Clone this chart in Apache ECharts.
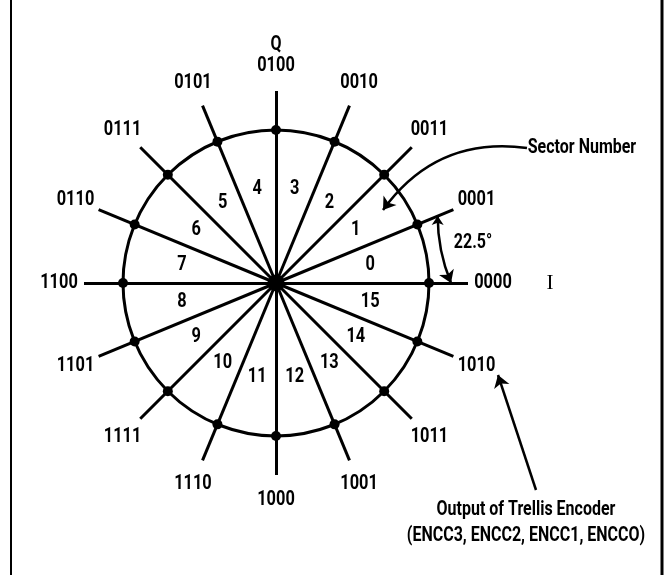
<!DOCTYPE html>
<html>
<head>
<meta charset="utf-8">
<script src="https://cdn.jsdelivr.net/npm/echarts@6/dist/echarts.min.js"></script>
<style>
  html, body { margin: 0; padding: 0; background: #fff; }
  #chart { width: 664px; height: 575px; }
</style>
</head>
<body>
<div id="chart"></div>
<script>
// constellation codes, one per phase point, starting at I axis going counter clockwise
const codes = ["0000", "0001", "0011", "0010", "0100", "0101", "0111", "0110",
               "1100", "1101", "1111", "1110", "1000", "1001", "1011", "1010"];
// sector numbers between neighbouring points
const sectors = ["0", "1", "2", "3", "4", "5", "6", "7",
                 "8", "9", "10", "11", "12", "13", "14", "15"];
const stepDeg = 22.5;

// radii in chart units
const circleR = 153;
const spokeR = 192;
const codeR = 217;
const sectorR = 96;
const arcR = 175;

// annotation texts and their anchors
const notes = [
  { text: "Q", at: [0, 238] },
  { text: "22.5°", at: [197, 40] },
  { text: "Sector Number", at: [306, 135] },
  { text: "Output of Trellis Encoder", at: [250, -227] },
  { text: "(ENCC3, ENCC2, ENCC1, ENCCO)", at: [250, -253] }
];
const axisNotes = [{ text: "I", at: [274, 0] }];
// arrows: sector number pointer, encoder output pointer
const sectorArrow = [[251, 135], [107, 73]];
const outputArrow = [[260, -207], [222, -92]];

const FONT = "Roboto, 'Liberation Sans', sans-serif";

function polar(r, deg) {
  const a = deg * Math.PI / 180;
  return [r * Math.cos(a), r * Math.sin(a)];
}

let spokes = codes.map((c, i) => ({ coords: [[0, 0], polar(spokeR, i * stepDeg)] }));
let dots = codes.map((c, i) => polar(circleR, i * stepDeg));
let codeItems = codes.map((c, i) => ({ at: polar(codeR, i * stepDeg), text: c }));
let sectorItems = sectors.map((s, i) => ({ at: polar(sectorR, (i + 0.5) * stepDeg), text: s }));

/* text layer drawn as custom series so the letters can be squeezed */
function textSeries(items, font, squeeze) {
  return {
    type: "custom",
    silent: true,
    data: items.map(it => it.at),
    renderItem: function(params, api) {
      let p = api.coord([api.value(0), api.value(1)]);
      return {
        type: "text",
        x: p[0],
        y: p[1],
        scaleX: squeeze,
        style: {
          text: items[params.dataIndex].text,
          font: font,
          fill: "#000",
          align: "center",
          verticalAlign: "middle"
        }
      };
    }
  };
}

let option = {
  animation: false,
  backgroundColor: "#fff",
  grid: { left: 0, right: 0, top: 0, bottom: 0 },
  xAxis: { type: "value", min: -276, max: 388, show: false },
  yAxis: { type: "value", min: -292, max: 283, show: false },
  graphic: [
    { type: "line", shape: { x1: 11, y1: 0, x2: 11, y2: 575 }, style: { stroke: "#000", lineWidth: 2 } },
    { type: "line", shape: { x1: 662, y1: 0, x2: 662, y2: 575 }, style: { stroke: "#000", lineWidth: 3 } }
  ],
  series: [
    {
      // outer circle
      type: "custom",
      data: [[0, 0]],
      silent: true,
      renderItem: function(params, api) {
        let c = api.coord([0, 0]);
        let r = api.size([circleR, 0])[0];
        return {
          type: "circle",
          shape: { cx: c[0], cy: c[1], r: r },
          style: { fill: "none", stroke: "#000", lineWidth: 3 }
        };
      }
    },
    {
      type: "lines",
      coordinateSystem: "cartesian2d",
      data: spokes,
      symbol: ["none", "none"],
      lineStyle: { color: "#000", width: 3, opacity: 1 }
    },
    {
      type: "scatter",
      data: dots,
      symbol: "circle",
      symbolSize: 10,
      itemStyle: { color: "#000", opacity: 1 }
    },
    {
      type: "scatter",
      data: [[0, 0]],
      symbolSize: 17,
      itemStyle: { color: "#000", opacity: 1 }
    },
    textSeries(codeItems, "bold 21px " + FONT, 0.78),
    textSeries(sectorItems, "bold 21px " + FONT, 0.78),
    textSeries(notes, "bold 19.5px " + FONT, 0.82),
    textSeries(axisNotes, "21px 'Liberation Serif', 'DejaVu Serif', serif", 1),
    {
      // 22.5 degree angle arc with arrowheads on both ends
      type: "lines",
      coordinateSystem: "cartesian2d",
      data: [{ coords: [polar(arcR, stepDeg), polar(arcR, 0)] }],
      symbol: ["arrow", "arrow"],
      symbolSize: [9, 12],
      lineStyle: { color: "#000", width: 2.5, curveness: -0.1, opacity: 1 }
    },
    {
      type: "lines",
      coordinateSystem: "cartesian2d",
      data: [{ coords: sectorArrow }],
      symbol: ["none", "arrow"],
      symbolSize: 12,
      lineStyle: { color: "#000", width: 2.5, curveness: -0.3, opacity: 1 }
    },
    {
      type: "lines",
      coordinateSystem: "cartesian2d",
      data: [{ coords: outputArrow }],
      symbol: ["none", "arrow"],
      symbolSize: 12,
      lineStyle: { color: "#000", width: 2.5, opacity: 1 }
    }
  ]
};

let myChart = echarts.init(document.getElementById("chart"));
myChart.setOption(option);
</script>
</body>
</html>
